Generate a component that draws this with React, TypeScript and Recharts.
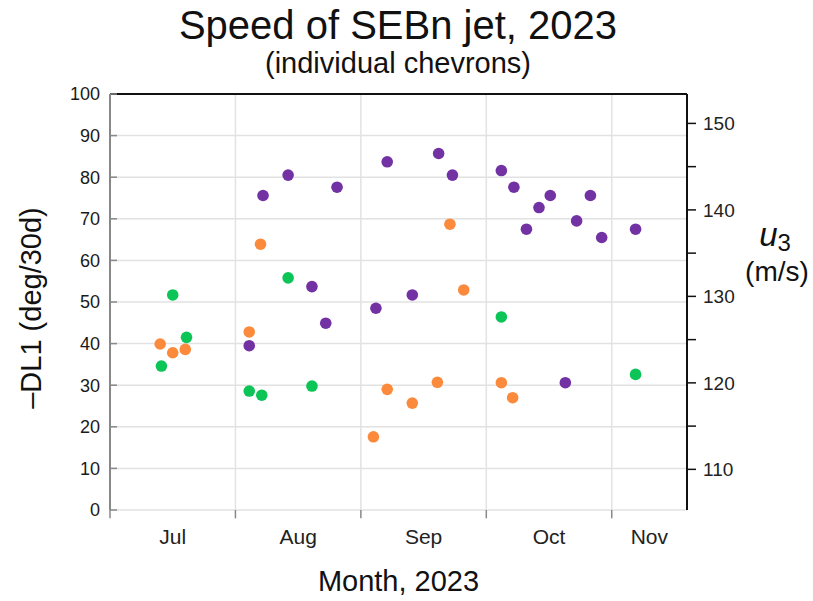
import React from 'react';
import { ScatterChart, Scatter, XAxis, YAxis, CartesianGrid, Label, ReferenceLine } from 'recharts';

// x values: month number + fraction of month (7 = 1 Jul)
const monthBoundaries = [7, 8, 9, 10, 11];
const monthLabelPositions = [7.5, 8.5, 9.5, 10.5, 11.3];
const monthNames = ['Jul', 'Aug', 'Sep', 'Oct', 'Nov'];
const leftTicks = [0, 10, 20, 30, 40, 50, 60, 70, 80, 90, 100];
const rightTicks = [110, 115, 120, 125, 130, 135, 140, 145, 150];

const purpleX = [8.11, 8.22, 8.42, 8.61, 8.72, 8.81, 9.12, 9.21, 9.41, 9.62, 9.73, 10.12, 10.22, 10.32, 10.42, 10.51, 10.63, 10.72, 10.83, 10.92, 11.19];
const purpleY = [39.5, 75.6, 80.5, 53.7, 44.9, 77.6, 48.5, 83.7, 51.7, 85.7, 80.5, 81.6, 77.6, 67.5, 72.7, 75.6, 30.6, 69.5, 75.6, 65.5, 67.5];

const orangeX = [7.40, 7.50, 7.60, 8.11, 8.20, 9.10, 9.21, 9.41, 9.61, 9.71, 9.82, 10.12, 10.21];
const orangeY = [39.9, 37.8, 38.6, 42.8, 63.9, 17.6, 29.0, 25.7, 30.7, 68.7, 52.9, 30.6, 27.0];

const greenX = [7.41, 7.50, 7.61, 8.11, 8.21, 8.42, 8.61, 10.12, 11.19];
const greenY = [34.6, 51.7, 41.5, 28.6, 27.6, 55.8, 29.8, 46.4, 32.6];

const toPoints = (xs: number[], ys: number[]) => xs.map((x, i) => ({ x, y: ys[i] }));
const purpleData = toPoints(purpleX, purpleY);
const orangeData = toPoints(orangeX, orangeY);
const greenData = toPoints(greenX, greenY);

const FONT = '"Liberation Sans", Arial, Helvetica, sans-serif';
const PURPLE = '#7232A4';
const ORANGE = '#FB8A3C';
const GREEN = '#0DC457';
const GRID = '#e2e2e2';

const dot = (color: string) => (p: any) => <circle cx={p.cx} cy={p.cy} r={5.8} fill={color} />;

const LeftTick = (props: any) => {
  const { x, y, payload } = props;
  return (
    <g>
      <line x1={x + 10} x2={x + 17} y1={y} y2={y} stroke="#888" strokeWidth={1.5} />
      <text x={x} y={y} dy="0.36em" textAnchor="end" fontSize={18} fill="#1a1a1a" fontFamily={FONT}>
        {payload.value}
      </text>
    </g>
  );
};

const RightTick = (props: any) => {
  const { x, y, payload } = props;
  if (payload.value % 10 !== 0) return <g />;
  return (
    <text x={x} y={y} dy="0.36em" textAnchor="start" fontSize={19} fill="#222" fontFamily={FONT}>
      {payload.value}
    </text>
  );
};

const LeftTitle = (props: any) => {
  const vb = props.viewBox;
  const cx = vb.x + 41;
  const cy = vb.y + vb.height / 2 + 6;
  return (
    <text x={cx} y={cy} transform={`rotate(-90, ${cx}, ${cy})`} textAnchor="middle" fontSize={29} fill="#111" fontFamily={FONT}>
      –DL1 (deg/30d)
    </text>
  );
};

const RightTitle = (props: any) => {
  const vb = props.viewBox;
  const cx = vb.x + 90;
  return (
    <g fontFamily={FONT} fill="#111">
      <text x={cx - 2} y={vb.y + 152} textAnchor="middle" fontSize={33}>
        <tspan fontStyle="italic">u</tspan>
        <tspan fontSize={24} dy={5}>3</tspan>
      </text>
      <text x={cx} y={vb.y + 187} textAnchor="middle" fontSize={28}>(m/s)</text>
    </g>
  );
};

const emptyTick = () => <g />;

export default function App() {
  return (
    <div style={{ position: 'absolute', left: 0, top: 0, width: 813, height: 601, background: '#fff', fontFamily: FONT }}>
      <div style={{ position: 'absolute', left: 0, top: 5, width: 796, textAlign: 'center', fontSize: 40, lineHeight: '40px', color: '#111' }}>
        Speed of SEBn jet, 2023
      </div>
      <div style={{ position: 'absolute', left: 0, top: 49, width: 796, textAlign: 'center', fontSize: 29, lineHeight: '29px', color: '#111' }}>
        (individual chevrons)
      </div>
      <ScatterChart width={813} height={601} margin={{ top: 94, right: 0, bottom: 0, left: 0 }} style={{ position: 'absolute', left: 0, top: 0 }}>
        <CartesianGrid xAxisId="m" yAxisId="l" stroke={GRID} strokeWidth={1.5} vertical={false} />
        {monthBoundaries.slice(1).map((m) => (
          <ReferenceLine key={`g${m}`} xAxisId="m" yAxisId="l" x={m} stroke={GRID} strokeWidth={1.5} />
        ))}
        {monthBoundaries.map((m) => (
          <ReferenceLine
            key={`t${m}`}
            xAxisId="m"
            yAxisId="l"
            segment={[{ x: m, y: 0 }, { x: m, y: -2 }]}
            stroke="#888"
            strokeWidth={1.5}
            ifOverflow="visible"
          />
        ))}
        <ReferenceLine xAxisId="m" yAxisId="l" y={100} stroke="#111" strokeWidth={2} />
        <XAxis
          xAxisId="m"
          type="number"
          dataKey="x"
          domain={[7, 11.6]}
          ticks={monthBoundaries}
          allowDataOverflow
          height={0}
          tick={emptyTick}
          tickLine={{ stroke: '#888', strokeWidth: 1.5 }}
          tickSize={8}
          axisLine={{ stroke: '#888', strokeWidth: 2 }}
        />
        <XAxis
          xAxisId="lab"
          type="number"
          dataKey="x"
          domain={[7, 11.6]}
          ticks={monthLabelPositions}
          allowDataOverflow
          height={91}
          tickFormatter={(v: number) => monthNames[monthLabelPositions.indexOf(v)] ?? ''}
          tick={{ fontSize: 21, fill: '#222', fontFamily: FONT }}
          tickLine={false}
          axisLine={false}
          tickSize={8}
          tickMargin={11}
        >
          <Label value="Month, 2023" position="insideBottom" offset={10} style={{ fontSize: 29, fill: '#111', fontFamily: FONT }} />
        </XAxis>
        <YAxis
          yAxisId="l"
          orientation="left"
          type="number"
          dataKey="y"
          domain={[0, 100]}
          ticks={leftTicks}
          width={110}
          tickSize={0}
          tickMargin={10}
          tick={<LeftTick />}
          axisLine={{ stroke: '#888', strokeWidth: 2 }}
          allowDataOverflow
        >
          <Label content={<LeftTitle />} />
        </YAxis>
        <YAxis
          yAxisId="r"
          orientation="right"
          type="number"
          domain={[105.3, 153.4]}
          ticks={rightTicks}
          width={126}
          tickSize={9}
          tickMargin={7}
          tick={<RightTick />}
          tickLine={{ stroke: '#111', strokeWidth: 1.5 }}
          axisLine={{ stroke: '#111', strokeWidth: 2 }}
          allowDataOverflow
        >
          <Label content={<RightTitle />} />
        </YAxis>
        <Scatter xAxisId="m" yAxisId="l" data={orangeData} fill={ORANGE} shape={dot(ORANGE)} isAnimationActive={false} />
        <Scatter xAxisId="m" yAxisId="l" data={greenData} fill={GREEN} shape={dot(GREEN)} isAnimationActive={false} />
        <Scatter xAxisId="m" yAxisId="l" data={purpleData} fill={PURPLE} shape={dot(PURPLE)} isAnimationActive={false} />
      </ScatterChart>
    </div>
  );
}
